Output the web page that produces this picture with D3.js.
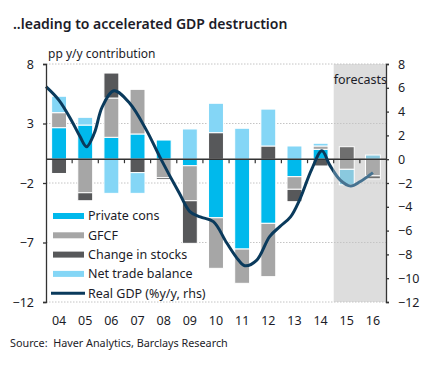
<!DOCTYPE html>
<html>
<head>
<meta charset="utf-8">
<script src="https://cdn.jsdelivr.net/npm/d3@7"></script>
<style>
  body { margin: 0; background: #fff; }
  text { font-family: "Noto Sans", "Open Sans", sans-serif; fill: #1c1c28; }
</style>
</head>
<body>
<svg width="428" height="368"></svg>
<script>
var svg = d3.select('svg');

// data
var years = ['04', '05', '06', '07', '08', '09', '10', '11', '12', '13', '14', '15', '16'];
var forecastYears = ['15', '16'];
var privateCons = [2.65, 2.87, 1.84, 2.12, 1.61, -0.55, -4.92, -7.55, -5.39, -1.47, 0.83, 0, 0];
var gfcf = [1.26, -2.82, 3.3, 3.75, -1.55, -2.94, -4.25, -2.88, -4.48, -1.06, 0.28, -0.85, -1.4];
var stocks = [-1.2, -0.67, 2.1, -1.13, -0.15, -3.58, 2.23, 0, 1.11, -1.04, -0.57, 1.05, -0.25];
var netTrade = [1.38, 0.65, -2.87, -1.74, 0, 2.54, 2.47, 2.6, 3.1, 1.11, 0.23, -1.3, 0.35];

var gdpPeriod = [2003.5, 2004.0, 2004.5, 2004.8, 2005.05, 2005.35, 2005.65, 2006.1, 2006.7, 2007.35,
                 2007.85, 2008.6, 2009.0, 2009.4, 2009.9, 2010.4, 2010.85, 2011.1, 2011.55, 2012.05,
                 2012.45, 2012.85, 2013.2, 2013.65, 2014.05, 2014.35, 2014.75, 2015.15, 2015.5, 2016.0];
var gdpValues = [6.1, 4.95, 3.15, 1.9, 1.05, 2.2, 4.4, 5.75, 4.7, 2.4,
                 0.2, -2.87, -4.4, -4.85, -5.25, -7.0, -8.45, -8.95, -8.5, -6.5,
                 -5.65, -4.85, -3.4, -0.9, 0.7, -0.5, -1.75, -2.25, -1.9, -1.13];

var leftTicks = [8, 3, -2, -7, -12];
var rightTicks = [8, 6, 4, 2, 0, -2, -4, -6, -8, -10, -12];

var keys = ['pc', 'gfcf', 'stocks', 'trade'];
var names = {pc: 'Private cons', gfcf: 'GFCF', stocks: 'Change in stocks', trade: 'Net trade balance'};
var colors = {pc: '#00b9ec', gfcf: '#a6a6a6', stocks: '#57585a', trade: '#84d6f6'};
var fcColors = {pc: '#3cb4d8', gfcf: '#a9a9a9', stocks: '#6f6f6f', trade: '#8ac9df'};

var rows = years.map(function(yr, i){
    return {year: yr, pc: privateCons[i], gfcf: gfcf[i], stocks: stocks[i], trade: netTrade[i]};
});

var pLeft = 46, pRight = 386, pTop = 64, pBottom = 302;

var x = d3.scaleBand().domain(years).range([pLeft, pRight]).paddingInner(0.43).paddingOuter(0.215);
var gap = (x.step() - x.bandwidth()) / 2;
var xl = d3.scaleLinear().domain([+years[0] + 2000 - 0.5, +years[years.length - 1] + 2000 + 0.5]).range([pLeft, pRight]);
var y = d3.scaleLinear().domain([-12, 8]).range([pBottom, pTop]);

// title
svg.append('text').attr('x', 13).attr('y', 29)
    .attr('font-size', 14).attr('font-weight', 600)
    .text('..leading to accelerated GDP destruction');

svg.append('text').attr('x', 48).attr('y', 58).attr('font-size', 12)
    .text('pp y/y contribution');

// forecast shading
var fcStart = x(forecastYears[0]) - gap;
svg.append('rect')
    .attr('x', fcStart).attr('y', pTop)
    .attr('width', pRight - fcStart).attr('height', pBottom - pTop)
    .attr('fill', '#dddddd');

svg.append('text').attr('x', fcStart).attr('y', 84).attr('font-size', 12.5)
    .text('forecasts');

// gridlines
svg.selectAll('.grid')
    .data(leftTicks)
    .enter()
    .append('line')
    .attr('x1', pLeft).attr('x2', pRight)
    .attr('y1', function(d){ return y(d); })
    .attr('y2', function(d){ return y(d); })
    .attr('stroke', '#c4c4c4')
    .attr('stroke-dasharray', '1.5,1.5');

// stacked bars
var series = d3.stack().keys(keys).offset(d3.stackOffsetDiverging)(rows);

svg.append('g').selectAll('g')
    .data(series)
    .enter()
    .append('g')
    .selectAll('rect')
    .data(function(s){
        return s.filter(function(d){ return d[1] - d[0] !== 0; })
            .map(function(d){ return {lo: d[0], hi: d[1], year: d.data.year, key: s.key}; });
    })
    .enter()
    .append('rect')
    .attr('x', function(d){ return x(d.year); })
    .attr('width', x.bandwidth())
    .attr('y', function(d){ return y(Math.max(d.lo, d.hi)); })
    .attr('height', function(d){ return Math.abs(y(d.lo) - y(d.hi)); })
    .attr('fill', function(d){
        return forecastYears.indexOf(d.year) >= 0 ? fcColors[d.key] : colors[d.key];
    })
    .attr('stroke', '#fff')
    .attr('stroke-width', 1);

// zero line with category ticks
svg.append('line')
    .attr('x1', pLeft).attr('x2', pRight)
    .attr('y1', y(0)).attr('y2', y(0))
    .attr('stroke', '#333').attr('stroke-width', 1.5);

svg.selectAll('.ztick')
    .data(years.slice(0, -1))
    .enter()
    .append('line')
    .attr('x1', function(d){ return x(d) + x.bandwidth() + gap; })
    .attr('x2', function(d){ return x(d) + x.bandwidth() + gap; })
    .attr('y1', y(0)).attr('y2', y(0) + 4)
    .attr('stroke', '#333').attr('stroke-width', 1.2);

// GDP line, historic and forecast parts
var defs = svg.append('defs');
defs.append('clipPath').attr('id', 'hist').append('rect')
    .attr('x', 0).attr('y', 0).attr('width', fcStart).attr('height', 368);
defs.append('clipPath').attr('id', 'fc').append('rect')
    .attr('x', fcStart).attr('y', 0).attr('width', 428 - fcStart).attr('height', 368);

var gdp = gdpPeriod.map(function(p, i){ return [p, gdpValues[i]]; });
var line = d3.line()
    .x(function(d){ return xl(d[0]); })
    .y(function(d){ return y(d[1]); })
    .curve(d3.curveCatmullRom.alpha(0.5));

svg.append('path').datum(gdp)
    .attr('d', line).attr('fill', 'none')
    .attr('stroke', '#0a3a5c').attr('stroke-width', 3)
    .attr('clip-path', 'url(#hist)');
svg.append('path').datum(gdp)
    .attr('d', line).attr('fill', 'none')
    .attr('stroke', '#467290').attr('stroke-width', 3)
    .attr('clip-path', 'url(#fc)');

// axes
var axL = svg.append('g').attr('transform', 'translate(' + pLeft + ',0)')
    .call(d3.axisLeft(y).tickValues(leftTicks).tickSize(3).tickPadding(9).tickFormat(d3.format('d')));
var axR = svg.append('g').attr('transform', 'translate(' + pRight + ',0)')
    .call(d3.axisRight(y).tickValues(rightTicks).tickSize(3).tickPadding(9).tickFormat(d3.format('d')));
[axL, axR].forEach(function(a){
    a.selectAll('path, line').attr('stroke', '#333').attr('stroke-width', 1.3);
    a.selectAll('text').attr('font-size', 12.5).attr('font-family', '"Noto Sans", sans-serif').attr('fill', '#1c1c28');
});

// category labels
svg.selectAll('.xlab')
    .data(years)
    .enter()
    .append('text')
    .attr('x', function(d){ return x(d) + x.bandwidth() / 2; })
    .attr('y', 325)
    .attr('text-anchor', 'middle')
    .attr('font-size', 12.5)
    .text(function(d){ return d; });

// legend
svg.append('rect').attr('x', 48).attr('y', 206).attr('width', 132).attr('height', 95).attr('fill', '#fff');
var leg = svg.append('g');
keys.forEach(function(k, i){
    var ly = 216 + i * 19.3;
    leg.append('rect').attr('x', 53).attr('y', ly - 3).attr('width', 31).attr('height', 6).attr('fill', colors[k]);
    leg.append('text').attr('x', 88).attr('y', ly).attr('dy', '0.35em').attr('font-size', 12.5).text(names[k]);
});
leg.append('line').attr('x1', 51).attr('x2', 85)
    .attr('y1', 216 + 4 * 19.3).attr('y2', 216 + 4 * 19.3)
    .attr('stroke', '#0a3a5c').attr('stroke-width', 3);
leg.append('text').attr('x', 88).attr('y', 216 + 4 * 19.3).attr('dy', '0.35em').attr('font-size', 12.5)
    .text('Real GDP (%y/y, rhs)');

// source
svg.append('text').attr('x', 10).attr('y', 347).attr('font-size', 10.8)
    .style('white-space', 'pre')
    .text('Source:  Haver Analytics, Barclays Research');
</script>
</body>
</html>
